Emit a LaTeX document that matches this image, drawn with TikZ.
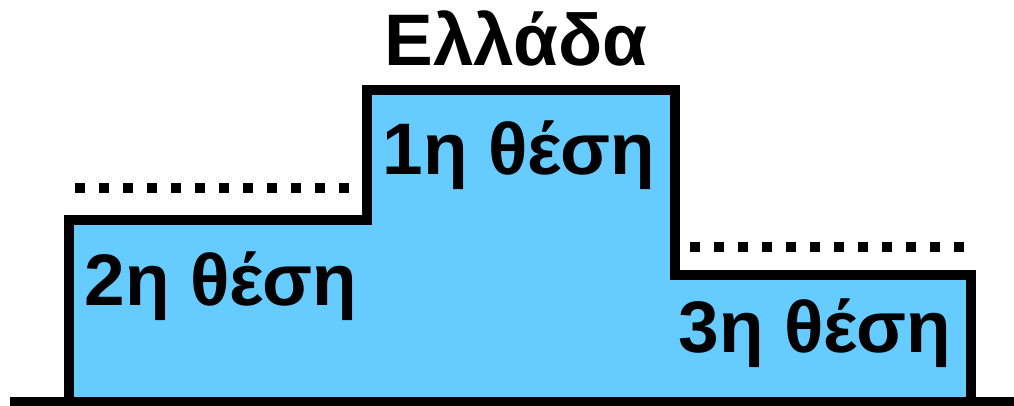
\documentclass[tikz,border=0pt]{standalone}
\usepackage{fontspec}
\setmainfont{Liberation Sans}
\definecolor{podium}{RGB}{102,204,255}
\begin{document}
\begin{tikzpicture}[x=1pt,y=-1pt,
  lbl/.style={font=\fontsize{73}{80}\selectfont\bfseries, inner sep=0pt, anchor=base},
  dotline/.style={line width=10pt, dash pattern=on 10pt off 14pt},
  outline/.style={line width=10pt, line join=miter}]
\useasboundingbox (0,0) rectangle (1014,406);
\fill[podium] (69,402) -- (69,220) -- (367,220) -- (367,90) -- (675,90) -- (675,275) -- (971,275) -- (971,402) -- cycle;
\draw[outline] (69,402) -- (69,220) -- (367,220) -- (367,90) -- (675,90) -- (675,275) -- (971,275) -- (971,402);
\draw[outline] (10,402) -- (1014,402);
\draw[dotline] (75,188) -- (350,188);
\draw[dotline] (690,247) -- (965,247);
\node[lbl] (title) at (516,66) {Ελλάδα};
\node[lbl] (first) at (519,175) {1η θέση};
\node[lbl] (second) at (221,305) {2η θέση};
\node[lbl] (third) at (815,352) {3η θέση};
\end{tikzpicture}
\end{document}
